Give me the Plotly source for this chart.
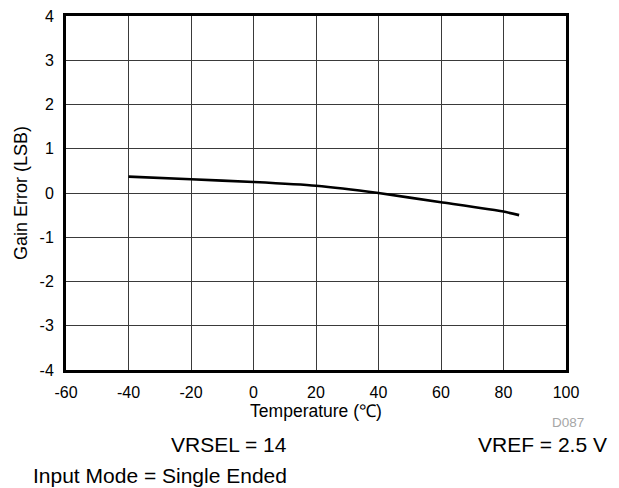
import plotly.graph_objects as go

temperature = [-40, -20, 0, 20, 40, 60, 80, 85]
gain_error = [0.37, 0.31, 0.25, 0.165, 0.0, -0.21, -0.42, -0.50]

x_ticks = [-60, -40, -20, 0, 20, 40, 60, 80, 100]
y_ticks = [-4, -3, -2, -1, 0, 1, 2, 3, 4]

# page body has an 8px margin, so the figure is drawn 8px smaller and offset
OFF = 8
W, H = 619 - OFF, 488 - OFF
L, T = 66 - OFF, 16 - OFF
PLOT_R, PLOT_B = 566 - OFF, 370 - OFF
R, B = W - PLOT_R, H - PLOT_B
PW, PH = PLOT_R - L, PLOT_B - T

def px(x):
    return (x - OFF - L) / PW

def py(y):
    return (PLOT_B - (y - OFF)) / PH

FONT = "Liberation Sans, Arial, sans-serif"

fig = go.Figure()
fig.add_trace(go.Scatter(x=temperature, y=gain_error, mode="lines",
                         line=dict(color="black", width=2.6, shape="spline", smoothing=0.4),
                         showlegend=False))

axis_common = dict(showline=True, linecolor="black", linewidth=3, mirror=True,
                   showgrid=True, gridcolor="#3a3a3a", gridwidth=1,
                   zeroline=False, ticks="", automargin=False,
                   ticklabeloverflow="allow",
                   tickfont=dict(family=FONT, size=16, color="black"))

fig.update_xaxes(range=[-60, 100], tickvals=x_ticks, ticktext=[str(v) for v in x_ticks],
                 title=dict(text="Temperature (℃)", font=dict(family=FONT, size=17.5, color="black"), standoff=0),
                 ticklabelstandoff=6, **axis_common)
fig.update_yaxes(range=[-4, 4], tickvals=y_ticks, ticktext=[str(v) for v in y_ticks],
                 title=dict(text="Gain Error (LSB)", font=dict(family=FONT, size=18, color="black"), standoff=8),
                 ticklabelstandoff=6, **axis_common)

annots = [
    dict(text="D087", x=px(586), y=py(422), xanchor="right", yanchor="middle",
         font=dict(family=FONT, size=13.5, color="#a6a6a6")),
    dict(text="VRSEL = 14", x=px(229), y=py(444), xanchor="center", yanchor="middle",
         font=dict(family=FONT, size=21, color="black")),
    dict(text="VREF = 2.5 V", x=px(609), y=py(444), xanchor="right", yanchor="middle",
         font=dict(family=FONT, size=21, color="black")),
    dict(text="Input Mode = Single Ended", x=px(31), y=py(475), xanchor="left", yanchor="middle",
         font=dict(family=FONT, size=21, color="black")),
]
for a in annots:
    fig.add_annotation(xref="paper", yref="paper", showarrow=False, **a)

fig.update_layout(width=W, height=H, margin=dict(l=L, r=R, t=T, b=B),
                  plot_bgcolor="white", paper_bgcolor="white")

fig.write_html("out.html")
